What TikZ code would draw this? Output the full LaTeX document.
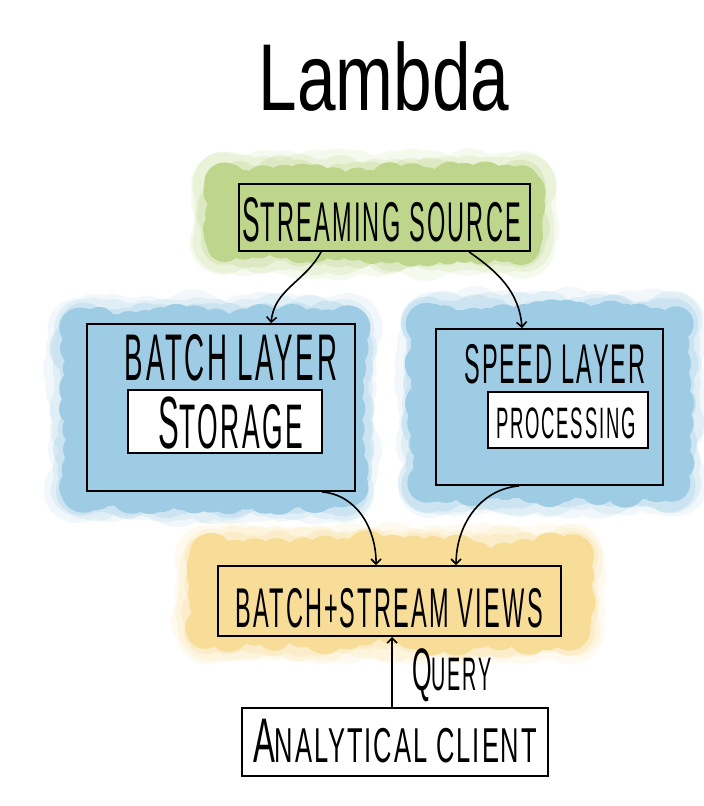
\documentclass[tikz,border=0pt]{standalone}
\usepackage{fontspec}
\usetikzlibrary{arrows.meta,calc}
\newfontfamily\hand{Liberation Sans}[FakeStretch=0.42,LetterSpace=4]
\newfontfamily\handw{Liberation Sans}[FakeStretch=0.52,LetterSpace=4]
\newfontfamily\titlef{Liberation Sans}[FakeStretch=0.73]
\newcommand{\fs}[1]{\fontsize{#1}{#1}\selectfont}
\definecolor{blobgreen}{RGB}{190,214,139}
\definecolor{blobblue}{RGB}{158,204,228}
\definecolor{bloborange}{RGB}{248,221,152}
% cloud: colour, x1, y1, x2, y2 (inner rectangle), r
\newcommand{\cloud}[6]{%
  \foreach \g/\o in {12/0.15,8/0.2,4/0.3,0/1}{%
    \fill[#1, opacity=\o] (#2,#3) -- (#4,#3) -- (#4,#5) -- (#2,#5) -- cycle
      foreach \t in {0,0.0625,...,1.001}{
        ({#2+\t*(#4-#2)+4*rand},{#3+4*rand}) circle ({#6+\g+3*rand})
        ({#2+\t*(#4-#2)+4*rand},{#5+4*rand}) circle ({#6+\g+3*rand}) }
      foreach \t in {0,0.125,...,1.001}{
        ({#2+4*rand},{#3+\t*(#5-#3)}) circle ({#6+\g+3*rand})
        ({#4+4*rand},{#3+\t*(#5-#3)}) circle ({#6+\g+3*rand}) };}}
\tikzset{
  box/.style={draw=black, line width=1.8pt, inner sep=0pt, rectangle},
  txt/.style={anchor=base, inner sep=0pt, text=black},
  flow/.style={draw=black, line width=1.6pt, -{Straight Barb[length=5pt,width=10pt]}},
}
\begin{document}
\begin{tikzpicture}[x=1pt,y=-1pt]
\pgfmathsetseed{11}
\useasboundingbox (0,0) rectangle (704,806);
% blobs
\cloud{blobgreen}{225}{185}{522}{243}{20}
\cloud{blobblue}{80}{328}{345}{490}{20}
\cloud{blobblue}{430}{324}{672}{483}{20}
\cloud{bloborange}{209}{557}{570}{630}{20}
% title
\node[txt] (title) at (384,110) {\titlef\fs{95}Lambda};
% boxes
\node[box, fill=blobgreen, minimum width=291pt, minimum height=67pt] (src) at (384.5,217.5) {};
\node[box, fill=blobblue, minimum width=268pt, minimum height=167pt] (batch) at (221,407.5) {};
\node[box, fill=white, minimum width=194pt, minimum height=63pt] (storage) at (225,421.5) {};
\node[box, fill=blobblue, minimum width=227pt, minimum height=156pt] (speed) at (549.5,407) {};
\node[box, fill=white, minimum width=160pt, minimum height=56pt] (proc) at (568,420) {};
\node[box, fill=bloborange, minimum width=343pt, minimum height=70pt] (views) at (389.5,601) {};
\node[box, fill=white, minimum width=306pt, minimum height=68pt] (client) at (395,742) {};
% texts
\node[txt] (srcT) at (382,241) {\hand{\fs{63}S}{\fs{56}TREAMING SOURCE}};
\node[txt] (batchT) at (231,380) {\hand\fs{66}BATCH LAYER};
\node[txt] (storageT) at (231,448) {\hand{\fs{74}S}{\fs{63}TORAGE}};
\node[txt] (speedT) at (555,383) {\hand\fs{56}SPEED LAYER};
\node[txt] (procT) at (566,438) {\hand\fs{44}PROCESSING};
\node[txt] (viewsT) at (389,627) {\hand\fs{56}BATCH\kern2pt+\kern2pt STREAM VIEWS};
\node[txt] (clientT) at (395,762) {\handw{\fs{63}A}{\fs{49}NALYTICAL CLIENT}};
\node[txt, anchor=base west] (queryT) at (412,690) {\hand{\fs{60}Q}{\fs{47}UERY}};
% connectors
\draw[flow] ($(src.south west)+(83,0)$) to[out=-118, in=85] ($(batch.north west)+(185,0)$);
\draw[flow] ($(src.south west)+(231,0)$) to[out=-35, in=95] ($(speed.north west)+(87,0)$);
\draw[flow] ($(batch.south west)+(236,0)$) to[out=-5, in=90] ($(views.north west)+(159,0)$);
\draw[flow] ($(speed.south west)+(84,0)$) to[out=-175, in=90] ($(views.north west)+(239,0)$);
\draw[flow] ($(client.north west)+(151,0)$) -- ($(views.south west)+(175,0)$);
\end{tikzpicture}
\end{document}
